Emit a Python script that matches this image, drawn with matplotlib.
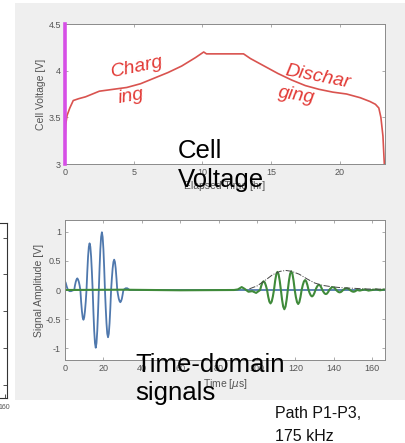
import matplotlib.pyplot as plt
import numpy as np
from matplotlib.patches import Rectangle

plt.rcParams['font.family'] = ['Liberation Sans', 'DejaVu Sans']
plt.rcParams['mathtext.fontset'] = 'dejavusans'

# cell voltage curve
hours = [0, 0.05, 0.15, 0.35, 0.6, 1.0, 1.5, 2.0, 2.5, 3.0, 3.5, 4.5, 5.5, 6.5, 7.5, 8.5,
         9.5, 10.1, 10.3, 11.0, 12.0, 13.0, 13.5, 14.5, 15.5, 16.5, 17.5, 18.5, 19.5,
         20.5, 21.5, 22.2, 22.6, 22.85, 23.0, 23.15, 23.25]
voltage = [3.25, 3.42, 3.52, 3.6, 3.68, 3.7, 3.72, 3.75, 3.78, 3.79, 3.8, 3.82, 3.86, 3.92,
           3.98, 4.05, 4.14, 4.2, 4.18, 4.18, 4.18, 4.18, 4.13, 4.05, 3.97, 3.9, 3.84, 3.8,
           3.77, 3.75, 3.71, 3.67, 3.64, 3.6, 3.5, 3.3, 3.0]

# excitation burst (blue), sampled every 0.4 us
burst_step = 0.4
burst = [0.15, 0.12, 0.07, 0.03, 0.0, -0.01, -0.02, -0.02, -0.02, -0.01, -0.01, 0.0,
         0.0, 0.08, 0.14, 0.18, 0.20, 0.18, 0.14, 0.08,
         0.0, -0.20, -0.36, -0.47, -0.51, -0.47, -0.36, -0.20,
         0.0, 0.31, 0.57, 0.74, 0.80, 0.74, 0.57, 0.31,
         0.0, -0.38, -0.70, -0.91, -0.99, -0.91, -0.70, -0.38,
         0.0, 0.38, 0.70, 0.91, 0.99, 0.91, 0.70, 0.38,
         0.0, -0.31, -0.57, -0.75, -0.81, -0.75, -0.57, -0.31,
         0.0, 0.20, 0.37, 0.48, 0.52, 0.48, 0.37, 0.20,
         0.0, -0.08, -0.15, -0.19, -0.21, -0.19, -0.15, -0.08,
         0.0, 0.01, 0.02, 0.03, 0.03, 0.03, 0.02, 0.01, 0.0, 0.0]
burst_end = 166.6

# received signal (green)
recv_pre_t = [0, 30, 60, 88, 90, 92, 93.5, 95.5, 97.5, 99.5]
recv_pre = [0.0, 0.005, -0.005, 0.0, 0.01, 0.05, 0.02, -0.03, -0.02, -0.05]
recv_start = 101.6
recv_step = 0.6
recv = [0, .075, .13, .15, .13, .075,
        0, -.115, -.20, -.23, -.20, -.115,
        0, .155, .27, .31, .27, .155,
        0, -.165, -.285, -.33, -.285, -.165,
        0, .16, .277, .32, .277, .16,
        0, -.12, -.208, -.24, -.208, -.12,
        0, .085, .147, .17, .147, .085,
        0, -.055, -.095, -.11, -.095, -.055,
        0, .045, .078, .09, .078, .045,
        0, -.035, -.061, -.07, -.061, -.035,
        0, .025, .043, .05, .043, .025,
        0, -.02, -.035, -.04, -.035, -.02,
        0, .015, .026, .03, .026, .015,
        0, -.015, -.026, -.03, -.026, -.015, 0]
recv_post_t = [153.5, 156, 158, 160, 162, 164, 166.6]
recv_post = [-0.01, 0.01, -0.01, 0.0, 0.01, -0.005, 0.01]

# envelope (dash-dot)
env_t = [96, 100, 104, 108, 112, 115, 118, 122, 126, 130, 134, 138, 142, 146, 150, 155, 160, 166.6]
env = [0.02, 0.07, 0.16, 0.26, 0.32, 0.335, 0.32, 0.27, 0.19, 0.12, 0.08, 0.06, 0.045,
       0.035, 0.03, 0.02, 0.015, 0.015]

W, H = 405, 443
fig = plt.figure(figsize=(W / 100, H / 100), dpi=100)
fig.patches.append(Rectangle((15 / W, 1 - 400 / H), 390 / W, 397 / H, transform=fig.transFigure,
                             facecolor='#efefef', edgecolor='none', zorder=-10))


def box(x0, y0, x1, y1):
    return [x0 / W, 1 - y1 / H, (x1 - x0) / W, (y1 - y0) / H]


def matlab_style(ax):
    for s in ax.spines.values():
        s.set_color('#8a8a8a')
        s.set_linewidth(0.7)
    ax.tick_params(direction='in', top=True, right=True, length=2.5, width=0.5,
                   colors='#8a8a8a', labelcolor='#555555', labelsize=6.5, pad=3)


# fragment of a neighbouring plot on the left edge
ax0 = fig.add_axes(box(-120, 223, 7, 398))
ax0.set_xlim(0, 163)
ax0.set_ylim(-1.18, 1.2)
ax0.set_xticks([160])
ax0.set_yticks([-1, -0.5, 0, 0.5, 1])
ax0.tick_params(direction='in', left=False, right=True, labelleft=False, length=3, width=0.6,
                colors='#333333', labelcolor='#555555', labelsize=5, pad=4)
for s in ax0.spines.values():
    s.set_color('#333333')
    s.set_linewidth(0.8)

# top: cell voltage
ax1 = fig.add_axes(box(65, 24, 385, 164))
matlab_style(ax1)
ax1.plot(hours, voltage, color='#d9534f', lw=1.2)
ax1.axvline(0, color='#d64fe6', lw=2.6, clip_on=False, zorder=5)
ax1.set_xlim(0, 23.3)
ax1.set_ylim(3, 4.5)
ax1.set_xticks([0, 5, 10, 15, 20])
ax1.set_yticks([3, 3.5, 4, 4.5])
ax1.set_yticklabels(['3', '3.5', '4', '4.5'])
ax1.set_xlabel('Elapsed Time [hr]', fontsize=7.5, color='#555555', labelpad=3)
ax1.set_ylabel('Cell Voltage [V]', fontsize=7.5, color='#555555', labelpad=2)

# bottom: time-domain signals
ax2 = fig.add_axes(box(65, 220, 385, 360))
matlab_style(ax2)
bt = np.arange(len(burst)) * burst_step
ax2.plot(list(bt) + [burst_end], burst + [0.0], color='#4f78ad', lw=1.3)
rt = list(recv_pre_t) + list(recv_start + np.arange(len(recv)) * recv_step) + recv_post_t
rv = recv_pre + recv + recv_post
ax2.plot(rt, rv, color='#3f8a3a', lw=1.5)
ax2.plot(env_t, env, color='#444444', lw=0.7, ls='-.')
ax2.set_xlim(0, 166.6)
ax2.set_ylim(-1.2, 1.2)
ax2.set_xticks(np.arange(0, 161, 20))
ax2.set_yticks([-1, -0.5, 0, 0.5, 1])
ax2.set_yticklabels(['-1', '-0.5', '0', '0.5', '1'])
ax2.set_xlabel(r'Time [$\mu$s]', fontsize=7.5, color='#555555', labelpad=3)
ax2.set_ylabel('Signal Amplitude [V]', fontsize=7.5, color='#555555', labelpad=1)

# annotations
red = '#e23a36'
fig.text(112 / W, 1 - 77 / H, 'Charg', color=red, fontsize=14, style='italic', rotation=12,
         rotation_mode='anchor', ha='left', va='baseline')
fig.text(119 / W, 1 - 103 / H, 'ing', color=red, fontsize=14, style='italic', rotation=10,
         rotation_mode='anchor', ha='left', va='baseline')
fig.text(284 / W, 1 - 75 / H, 'Dischar', color=red, fontsize=14, style='italic', rotation=-11,
         rotation_mode='anchor', ha='left', va='baseline')
fig.text(278 / W, 1 - 97 / H, 'ging', color=red, fontsize=14, style='italic', rotation=-9,
         rotation_mode='anchor', ha='left', va='baseline')

big = dict(fontsize=18.5, color='black', ha='left', va='baseline')
fig.text(178 / W, 1 - 158 / H, 'Cell', **big)
fig.text(178 / W, 1 - 187 / H, 'Voltage', **big)
fig.text(135 / W, 1 - 372 / H, 'Time-domain', **big)
fig.text(135 / W, 1 - 400 / H, 'signals', **big)

small = dict(fontsize=11.5, color='#111111', ha='left', va='baseline')
fig.text(275 / W, 1 - 418 / H, 'Path P1-P3,', **small)
fig.text(275 / W, 1 - 441 / H, '175 kHz', **small)

fig.savefig('out.png', dpi=100)
